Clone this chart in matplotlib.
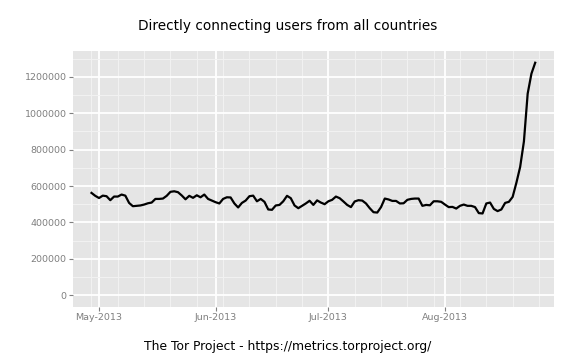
import datetime as dt
import matplotlib
matplotlib.use("Agg")
from matplotlib import pyplot as plt
import matplotlib.dates as mdates
from matplotlib.ticker import MultipleLocator, FuncFormatter

# daily users, 2013-04-29 .. 2013-08-25 (thousands)
start = dt.date(2013, 4, 29)
users_k = [562, 546,
           534, 547, 544, 522, 542, 542, 553, 547, 507, 489, 491, 493, 498, 505, 509, 529,
           529, 531, 546, 568, 571, 566, 548, 527, 546, 535, 549, 538, 553, 529, 520,
           511, 504, 529, 538, 537, 504, 482, 507, 520, 544, 547, 516, 529, 513, 471,
           469, 493, 496, 516, 546, 533, 493, 478, 491, 504, 519, 496, 521, 509, 500,
           516, 524, 542, 533, 515, 496, 484, 515, 522, 520, 504, 478, 456, 454, 484,
           531, 526, 518, 518, 504, 505, 524, 529, 531, 531, 491, 496, 494, 516, 516, 513,
           498, 484, 485, 476, 491, 498, 491, 491, 484, 451, 449, 504, 509, 474, 462,
           471, 507, 513, 540, 618, 705, 845, 1108, 1218, 1278]
dates = [start + dt.timedelta(days=i) for i in range(len(users_k))]
users = [v * 1000 for v in users_k]

title = "Directly connecting users from all countries"
caption = "The Tor Project - https://metrics.torproject.org/"

fig = plt.figure(figsize=(5.76, 3.6), dpi=100)
ax = fig.add_axes([0.1262, 0.148, 0.8356, 0.71])
ax.set_facecolor("#E5E5E5")
for s in ax.spines.values():
    s.set_visible(False)

ax.plot(dates, users, color="black", lw=1.6, zorder=3)

span = (dates[-1] - dates[0]).days
pad = dt.timedelta(days=span * 0.05)
ax.set_xlim(dates[0] - pad, dates[-1] + pad)
ymax = max(users)
ax.set_ylim(-0.05 * ymax, 1.05 * ymax)

ax.xaxis.set_major_locator(mdates.MonthLocator())
ax.xaxis.set_major_formatter(mdates.DateFormatter("%b-%Y"))
ax.xaxis.set_minor_locator(mdates.WeekdayLocator(byweekday=mdates.MO))
ax.yaxis.set_major_locator(MultipleLocator(200000))
ax.yaxis.set_minor_locator(MultipleLocator(100000))
ax.yaxis.set_major_formatter(FuncFormatter(lambda v, p: "%d" % v))

ax.grid(which="major", color="white", lw=1.3, zorder=1)
ax.grid(which="minor", color="#F2F2F2", lw=0.7, zorder=0)
ax.set_axisbelow(True)
ax.tick_params(which="major", length=3, width=0.8, color="#7F7F7F",
               labelcolor="#7F7F7F", labelsize=6.8, pad=1.5)
ax.tick_params(which="minor", length=0)

fig.text(0.5, 1 - 30 / 360, title, ha="center", va="baseline", fontsize=9.8)
fig.text(0.5, 1 - 350 / 360, caption, ha="center", va="baseline", fontsize=8.95)

fig.savefig("out.png", dpi=100)
